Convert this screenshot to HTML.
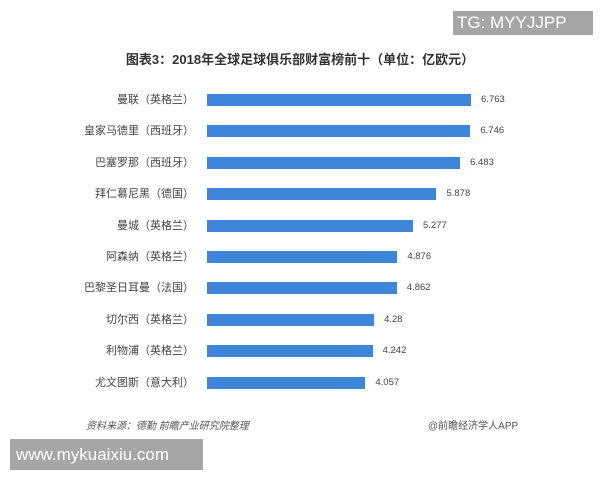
<!DOCTYPE html>
<html><head><meta charset="utf-8"><style>
body{margin:0;width:600px;height:480px;background:#fff;position:relative;overflow:hidden;font-family:"Liberation Sans","Noto Sans CJK SC",sans-serif}
.a{position:absolute;white-space:nowrap}
.lab{font-size:11px;color:#444;text-align:right;width:190px;left:4px;line-height:14px}
.bar{position:absolute;left:207px;height:12px;background:#3f86db}
.v{font-size:9.5px;color:#444;line-height:14px}
</style></head><body>
<div class="a" style="left:453px;top:11px;width:140px;height:24px;background:#a6a6a6;color:#fff;font-size:17px;line-height:24px;text-indent:4px">TG: MYYJJPP</div>
<div class="a" style="left:0;width:600px;top:49px;text-align:center;font-size:13px;font-weight:bold;color:#333">图表3：2018年全球足球俱乐部财富榜前十（单位：亿欧元）</div>
<div id="c"></div>
<div class="a" style="left:86px;top:417px;font-size:10px;color:#555;font-style:italic">资料来源：德勤 前瞻产业研究院整理</div>
<div class="a" style="left:428px;top:417px;font-size:10px;color:#555">@前瞻经济学人APP</div>
<div class="a" style="left:10px;top:439px;width:193px;height:31px;background:#a6a6a6;color:#fff;font-size:17px;line-height:31px;text-indent:6px">www.mykuaixiu.com</div>
<script>
var d=[["曼联（英格兰）",6.763],["皇家马德里（西班牙）",6.746],["巴塞罗那（西班牙）",6.483],["拜仁慕尼黑（德国）",5.878],["曼城（英格兰）",5.277],["阿森纳（英格兰）",4.876],["巴黎圣日耳曼（法国）",4.862],["切尔西（英格兰）",4.28],["利物浦（英格兰）",4.242],["尤文图斯（意大利）",4.057]];
var h="";d.forEach(function(r,i){var c=100+i*31.4,w=r[1]*39.04;
h+='<div class="a lab" style="top:'+(c-7)+'px">'+r[0]+'</div><div class="bar" style="top:'+(c-6)+'px;width:'+w+'px"></div><div class="a v" style="left:'+(207+w+10)+'px;top:'+(c-7)+'px">'+r[1]+'</div>';});
document.getElementById("c").innerHTML=h;
</script>
</body></html>
